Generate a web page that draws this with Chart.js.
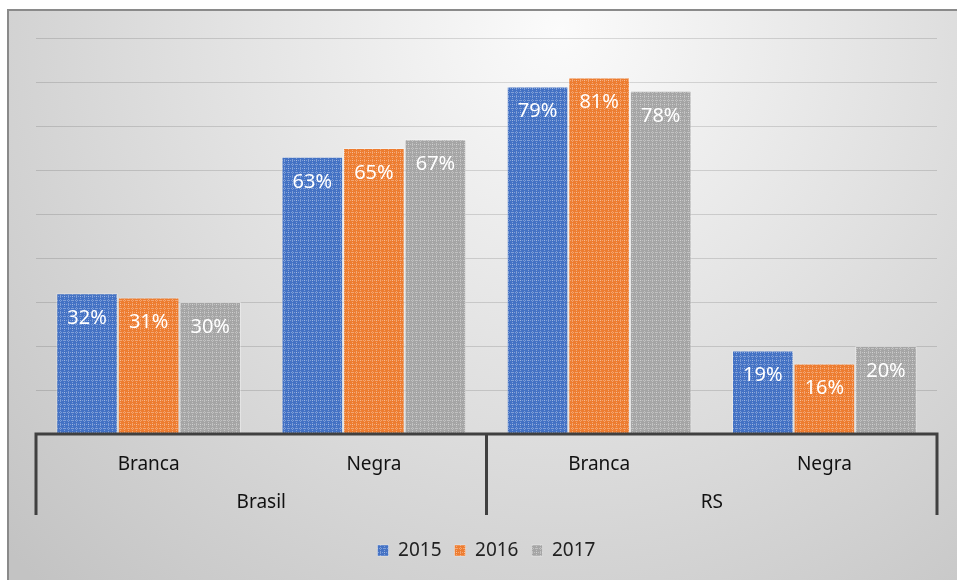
<!DOCTYPE html>
<html>
<head>
<meta charset="utf-8">
<script src="https://cdn.jsdelivr.net/npm/chart.js@4.4.1/dist/chart.umd.min.js"></script>
<style>
  html, body { margin: 0; padding: 0; background: #fff; }
  #wrap { width: 957px; height: 580px; }
</style>
</head>
<body>
<div id="wrap"><canvas id="chart" width="957" height="580"></canvas></div>
<script>
// 카테고리와 값
var categories = ['Branca', 'Negra', 'Branca', 'Negra'];
var groups = ['Brasil', 'RS'];
var years = ['2015', '2016', '2017'];
var values2015 = [32, 63, 79, 19];
var values2016 = [31, 65, 81, 16];
var values2017 = [30, 67, 78, 20];
var baseColors = ['#4472C4', '#ED7D31', '#A5A5A5'];

var canvas = document.getElementById('chart');
var ctx = canvas.getContext('2d');

// 엑셀 스타일의 점 격자 무늬
function makePattern(color) {
    var c = document.createElement('canvas');
    c.width = 8; c.height = 8;
    var g = c.getContext('2d');
    g.fillStyle = color;
    g.fillRect(0, 0, 8, 8);
    g.fillStyle = 'rgba(255,255,255,0.32)';
    for (var i = 0; i < 8; i += 2) {
        g.fillRect(i, 0, 1, 1);
        g.fillRect(0, i, 1, 1);
        g.fillRect(i + 1, 4, 1, 1);
        g.fillRect(4, i + 1, 1, 1);
    }
    return ctx.createPattern(c, 'repeat');
}

var FONT = '"Noto Sans", "Open Sans", sans-serif';

// 배경과 테두리
var backgroundPlugin = {
    id: 'bg',
    beforeDraw: function (chart) {
        var c = chart.ctx;
        c.save();
        c.fillStyle = '#ffffff';
        c.fillRect(0, 0, chart.width, chart.height);
        var grad = c.createRadialGradient(560, 30, 0, 560, 30, 760);
        grad.addColorStop(0, '#fbfbfb');
        grad.addColorStop(1, '#c3c3c3');
        c.fillStyle = grad;
        c.fillRect(8, 10, chart.width, chart.height);
        c.strokeStyle = '#8a8a8a';
        c.lineWidth = 2;
        c.strokeRect(8, 10, chart.width + 10, chart.height + 10);
        c.restore();
    }
};

// 축 선과 그룹 구분선
var axisPlugin = {
    id: 'axisLines',
    afterDatasetsDraw: function (chart) {
        var c = chart.ctx;
        var area = chart.chartArea;
        var x = chart.scales.x;
        var mid = (x.getPixelForValue(1) + x.getPixelForValue(2)) / 2;
        c.save();
        c.strokeStyle = '#404040';
        c.lineWidth = 3;
        c.beginPath();
        c.moveTo(area.left - 1.5, area.bottom);
        c.lineTo(area.right + 1.5, area.bottom);
        [area.left, mid, area.right].forEach(function (px) {
            c.moveTo(px, area.bottom);
            c.lineTo(px, area.bottom + 81);
        });
        c.stroke();
        c.restore();
    }
};

// 막대 안쪽 데이터 레이블
var labelPlugin = {
    id: 'barLabels',
    afterDatasetsDraw: function (chart) {
        var c = chart.ctx;
        c.save();
        c.fillStyle = '#ffffff';
        c.font = '20px ' + FONT;
        c.textAlign = 'center';
        c.textBaseline = 'middle';
        chart.data.datasets.forEach(function (ds, di) {
            chart.getDatasetMeta(di).data.forEach(function (bar, i) {
                c.fillText(ds.data[i] + '%', bar.x, bar.y + 25);
            });
        });
        c.restore();
    }
};

var series = [values2015, values2016, values2017];

var myChart = new Chart(ctx, {
    type: 'bar',
    data: {
        labels: categories,
        datasets: years.map(function (y, i) {
            return {
                label: y,
                data: series[i],
                backgroundColor: makePattern(baseColors[i]),
                borderColor: 'rgba(255,255,255,0.35)',
                borderWidth: 1,
                categoryPercentage: 0.82,
                barPercentage: 1.0
            };
        })
    },
    options: {
        responsive: false,
        animation: false,
        layout: { padding: { top: 38, left: 36, right: 20, bottom: 10 } },
        plugins: {
            legend: {
                position: 'bottom',
                labels: {
                    boxWidth: 11,
                    boxHeight: 11,
                    padding: 13,
                    color: '#222',
                    font: { family: FONT, size: 19 }
                }
            },
            tooltip: { enabled: false }
        },
        scales: {
            x: {
                grid: { display: false },
                border: { display: false },
                ticks: {
                    color: '#111',
                    font: { family: FONT, size: 19 },
                    padding: 11
                },
                afterFit: function (scale) { scale.height = 42; }
            },
            x2: {
                type: 'category',
                labels: groups,
                position: 'bottom',
                offset: true,
                grid: { display: false },
                border: { display: false },
                ticks: {
                    color: '#111',
                    font: { family: FONT, size: 19 },
                    padding: 7
                },
                afterFit: function (scale) { scale.height = 52; }
            },
            y: {
                min: 0,
                max: 90,
                ticks: { display: false, stepSize: 10 },
                border: { display: false },
                grid: { color: 'rgba(0,0,0,0.13)', drawTicks: false }
            }
        }
    },
    plugins: [backgroundPlugin, axisPlugin, labelPlugin]
});
</script>
</body>
</html>
